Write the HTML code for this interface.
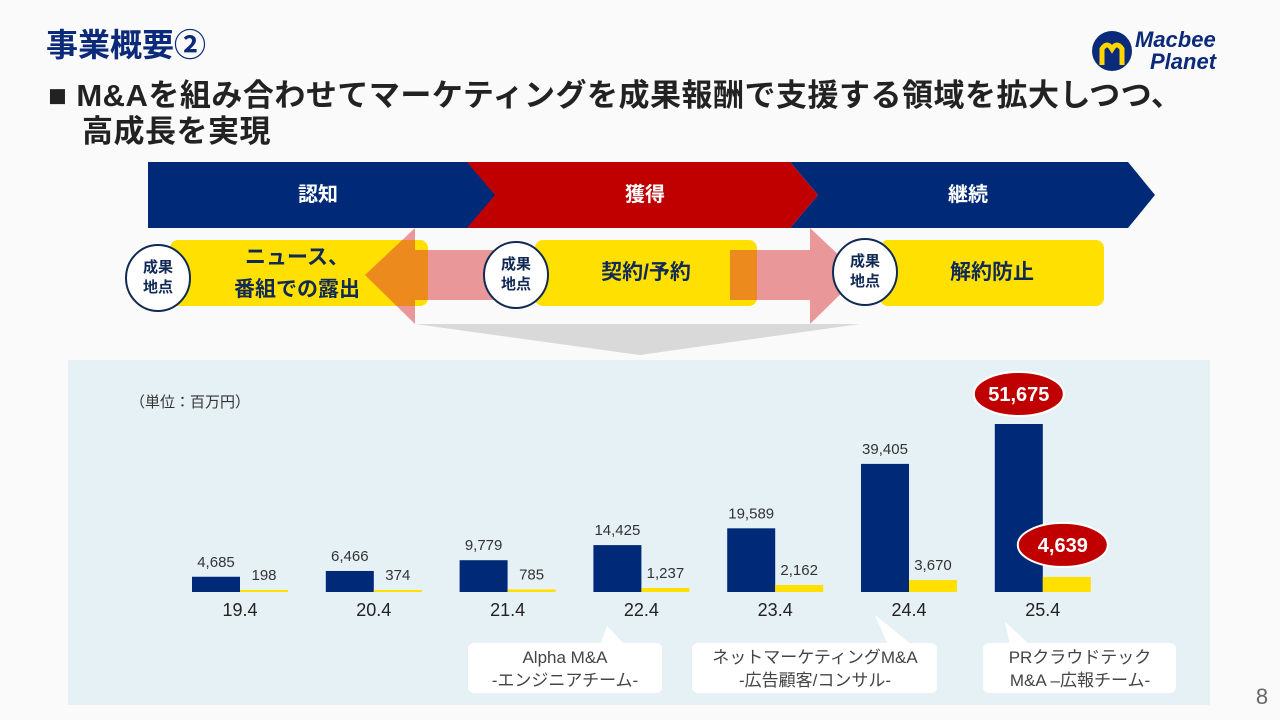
<!DOCTYPE html>
<html><head><meta charset="utf-8">
<style>
body{margin:0;width:1280px;height:720px;background:#fafafa;font-family:"Liberation Sans","Noto Sans CJK JP",sans-serif;position:relative;overflow:hidden}
.abs{position:absolute}
.t{font-weight:bold}
</style></head><body>
<div class="abs t" style="left:46px;top:20px;font-size:32px;color:#0b2a7a">事業概要②</div>
<div class="abs" style="left:1090px;top:25px;width:160px;height:50px">
 <svg width="160" height="50"><circle cx="22" cy="26" r="20" fill="#0b2a7a"/><path d="M12 40 V24 q5-8 10 0 q5-8 10 0 V40" stroke="#ffd700" stroke-width="5" fill="none"/>
 <text x="45" y="22" font-family="Liberation Sans" font-weight="bold" font-style="italic" font-size="22" fill="#0b2a7a">Macbee</text>
 <text x="60" y="44" font-family="Liberation Sans" font-weight="bold" font-style="italic" font-size="22" fill="#0b2a7a">Planet</text></svg></div>
<div class="abs t" style="left:48px;top:78px;font-size:31px;color:#222;line-height:36px;white-space:nowrap;letter-spacing:0.5px">■ M&amp;Aを組み合わせてマーケティングを成果報酬で支援する領域を拡大しつつ、<br><span style="padding-left:34px">高成長を実現</span></div>

<svg class="abs" style="left:0;top:0" width="1280" height="720">
 <polygon points="148,162 470,162 498,195 470,228 148,228" fill="#002a78"/>
 <polygon points="790,162 1128,162 1155,195 1128,228 790,228 818,195" fill="#002a78"/>
 <polygon points="467,162 790,162 818,195 790,228 467,228 495,195" fill="#c00000"/>
 <text x="318" y="201" text-anchor="middle" fill="#fff" font-size="20" font-weight="bold">認知</text>
 <text x="645" y="201" text-anchor="middle" fill="#fff" font-size="20" font-weight="bold">獲得</text>
 <text x="968" y="201" text-anchor="middle" fill="#fff" font-size="20" font-weight="bold">継続</text>
 <rect x="170" y="240" width="258" height="66" rx="8" fill="#ffe000"/>
 <rect x="880" y="240" width="224" height="66" rx="8" fill="#ffe000"/>
 <polygon points="365,275 415,228 415,250 540,250 540,300 415,300 415,324" fill="#d9333a" fill-opacity="0.5"/>
 <rect x="535" y="240" width="222" height="66" rx="8" fill="#ffe000"/>
 <polygon points="730,250 810,250 810,228 860,275 810,324 810,300 730,300" fill="#d9333a" fill-opacity="0.5"/>
 <text x="297" y="264" text-anchor="middle" fill="#102a55" font-size="21" font-weight="bold">ニュース、</text>
 <text x="297" y="296" text-anchor="middle" fill="#102a55" font-size="21" font-weight="bold">番組での露出</text>
 <text x="646" y="279" text-anchor="middle" fill="#102a55" font-size="21" font-weight="bold">契約/予約</text>
 <text x="992" y="279" text-anchor="middle" fill="#102a55" font-size="21" font-weight="bold">解約防止</text>
 <g font-size="15" font-weight="bold" fill="#102a55" text-anchor="middle">
  <ellipse cx="158" cy="278" rx="32" ry="33" fill="#fff" stroke="#102a55" stroke-width="2"/><text x="158" y="272">成果</text><text x="158" y="292">地点</text>
  <ellipse cx="516" cy="275" rx="32" ry="33" fill="#fff" stroke="#102a55" stroke-width="2"/><text x="516" y="269">成果</text><text x="516" y="289">地点</text>
  <ellipse cx="865" cy="272" rx="32" ry="33" fill="#fff" stroke="#102a55" stroke-width="2"/><text x="865" y="266">成果</text><text x="865" y="286">地点</text>
 </g>
 <polygon points="415,324 860,324 640,355" fill="#d9d9d9"/>
 <rect x="68" y="360" width="1142" height="345" fill="#e6f1f6"/>
 <text x="130" y="407" font-size="15" fill="#333">（単位：百万円）</text>
 <g id="bars"></g>
 <g>
  <polygon points="600,645 625,645 607,626" fill="#fff"/>
  <rect x="468" y="643" width="194" height="50" rx="6" fill="#fff"/>
  <polygon points="888,645 912,645 875,615" fill="#fff"/>
  <rect x="692" y="643" width="245" height="50" rx="6" fill="#fff"/>
  <polygon points="1010,645 1030,645 1005,622" fill="#fff"/>
  <rect x="983" y="643" width="193" height="50" rx="6" fill="#fff"/>
  <g font-size="17" fill="#444" text-anchor="middle">
   <text x="565" y="663">Alpha M&amp;A</text><text x="565" y="686">-エンジニアチーム-</text>
   <text x="815" y="663">ネットマーケティングM&amp;A</text><text x="815" y="686">-広告顧客/コンサル-</text>
   <text x="1080" y="663">PRクラウドテック</text><text x="1080" y="686">M&amp;A –広報チーム-</text>
  </g>
 </g>
 <text x="1262" y="704" font-size="22" fill="#666" text-anchor="middle">8</text>
</svg>
<script>
const categories=["19.4","20.4","21.4","22.4","23.4","24.4","25.4"];
const revenue=[4685,6466,9779,14425,19589,39405,51675];
const profit=[198,374,785,1237,2162,3670,4639];
const revenueLabels=["4,685","6,466","9,779","14,425","19,589","39,405","51,675"];
const profitLabels=["198","374","785","1,237","2,162","3,670","4,639"];
const NS="http://www.w3.org/2000/svg";
const g=document.getElementById('bars');
const base=592,maxH=168,maxV=51675;
const y=v=>base-v/maxV*maxH;
const x=i=>192+i*133.8;
function mk(tag,a){const e=document.createElementNS(NS,tag);for(const k in a)e.setAttribute(k,a[k]);g.appendChild(e);return e;}
categories.forEach((c,i)=>{
 const last=i===categories.length-1;
 const r=mk('rect',{x:x(i),y:y(revenue[i]),width:48,height:base-y(revenue[i]),fill:'#002a78'});
 
 
 const p=mk('rect',{x:x(i)+48,y:Math.min(y(profit[i]),base-2),width:48,height:Math.max(base-y(profit[i]),2),fill:'#ffe000'});
 
 
 const t=mk('text',{x:x(i)+48,y:616,'font-size':18,fill:'#222','text-anchor':'middle'});t.textContent=c;
 
 
 if(last){
  mk('ellipse',{cx:x(i)+24,cy:y(revenue[i])-30,rx:45,ry:22,fill:'#c00000',stroke:'#fff','stroke-width':2});
  const a=mk('text',{x:x(i)+24,y:y(revenue[i])-23,'font-size':20,'font-weight':'bold',fill:'#fff','text-anchor':'middle'});a.textContent=revenueLabels[i];
  
  
  mk('ellipse',{cx:x(i)+68,cy:y(profit[i])-32,rx:45,ry:22,fill:'#c00000',stroke:'#fff','stroke-width':2});
  const b=mk('text',{x:x(i)+68,y:y(profit[i])-25,'font-size':20,'font-weight':'bold',fill:'#fff','text-anchor':'middle'});b.textContent=profitLabels[i];
  
  
 }else{
  const a=mk('text',{x:x(i)+24,y:y(revenue[i])-10,'font-size':15,fill:'#333','text-anchor':'middle'});a.textContent=revenueLabels[i];
  
  
  const b=mk('text',{x:x(i)+72,y:Math.min(y(profit[i]),base-2)-10,'font-size':15,fill:'#333','text-anchor':'middle'});b.textContent=profitLabels[i];
  
  
 }
});
</script>
</body></html>
